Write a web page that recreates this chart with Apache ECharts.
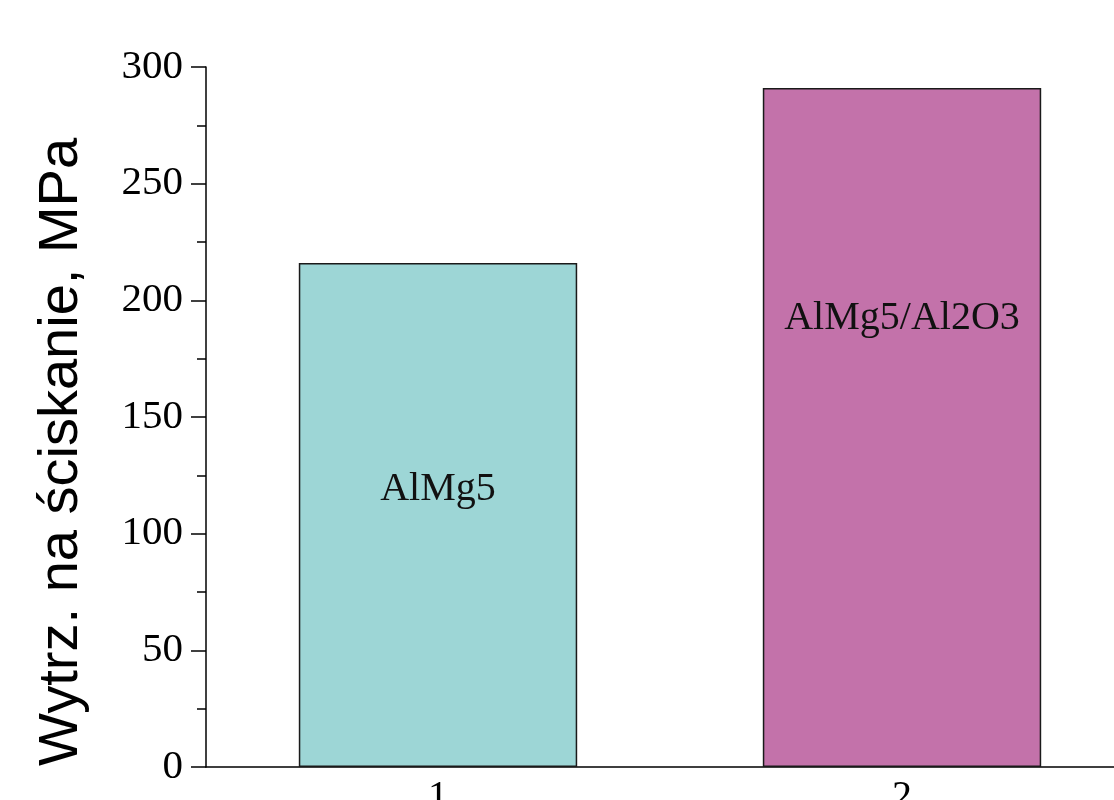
<!DOCTYPE html>
<html>
<head>
<meta charset="utf-8">
<script src="https://cdn.jsdelivr.net/npm/echarts@6/dist/echarts.min.js"></script>
<style>
html,body{margin:0;padding:0;background:#fff;}
#chart{width:1114px;height:800px;}
</style>
</head>
<body>
<div id="chart"></div>
<script>
const categories = ['1', '2'];
const values = [216, 291];
const barLabels = ['AlMg5', 'AlMg5/Al2O3'];
const barColors = ['#9DD6D6', '#C372AA'];
const labelPositions = [['50%', '45%'], ['50%', '34%']];
const yTitle = 'Wytrz. na ściskanie, MPa';

const serif = '"Liberation Serif", "Times New Roman", serif';
const sans = '"Liberation Sans", Arial, sans-serif';

const chart = echarts.init(document.getElementById('chart'));
chart.setOption({
  animation: false,
  backgroundColor: '#ffffff',
  grid: { left: 206, top: 67, bottom: 33, width: 928, containLabel: false, outerBoundsMode: 'none' },
  xAxis: {
    type: 'category',
    data: categories,
    boundaryGap: true,
    axisLine: { show: true, lineStyle: { color: '#000', width: 1.5 } },
    axisTick: { show: false },
    axisLabel: { color: '#000', fontFamily: serif, fontSize: 40, margin: 10 },
    splitLine: { show: false }
  },
  yAxis: {
    type: 'value',
    min: 0, max: 300, interval: 50,
    name: yTitle,
    nameLocation: 'middle',
    nameRotate: 90,
    nameGap: 116,
    nameTextStyle: { color: '#000', fontFamily: sans, fontSize: 56, padding: [0, 70, 0, 0] },
    axisLine: { show: true, lineStyle: { color: '#000', width: 1.5 } },
    axisTick: { show: true, inside: false, length: 15, lineStyle: { color: '#000', width: 1.5 } },
    minorTick: { show: true, splitNumber: 2, length: 9, lineStyle: { color: '#000', width: 1.5 } },
    axisLabel: { color: '#000', fontFamily: serif, fontSize: 41, margin: 23 },
    splitLine: { show: false },
    minorSplitLine: { show: false }
  },
  series: [{
    type: 'bar',
    barWidth: '60%',
    data: values.map((v, i) => ({
      value: v,
      itemStyle: { color: barColors[i], borderColor: '#1a1a1a', borderWidth: 1.5 },
      label: {
        show: true,
        formatter: barLabels[i],
        position: labelPositions[i],
        align: 'center',
        verticalAlign: 'middle',
        color: '#111',
        fontFamily: serif,
        fontSize: 40
      }
    }))
  }]
});
</script>
</body>
</html>
